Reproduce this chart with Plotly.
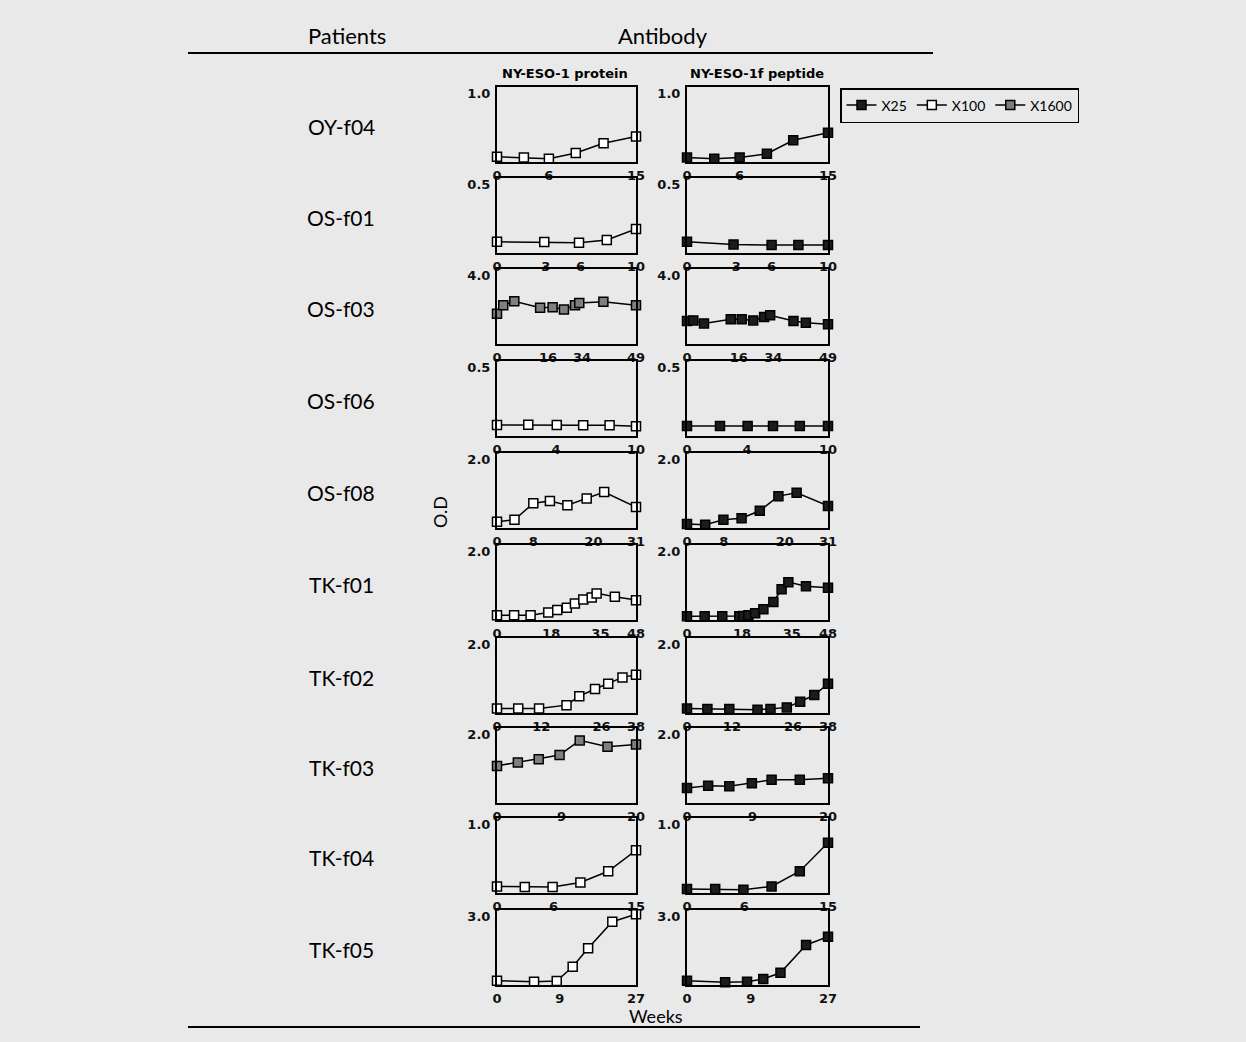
import plotly.graph_objects as go

W, H = 1246, 1042

patients = ["OY-f04", "OS-f01", "OS-f03", "OS-f06", "OS-f08",
            "TK-f01", "TK-f02", "TK-f03", "TK-f04", "TK-f05"]
y_max = [1.0, 0.5, 4.0, 0.5, 2.0, 2.0, 2.0, 2.0, 1.0, 3.0]
x_max = [15, 10, 49, 10, 31, 48, 38, 20, 15, 27]
x_tick_labels = [["0", "6", "15"], ["0", "3", "6", "10"], ["0", "16", "34", "49"],
                 ["0", "4", "10"], ["0", "8", "20", "31"], ["0", "18", "35", "48"],
                 ["0", "12", "26", "38"], ["0", "9", "20"], ["0", "6", "15"], ["0", "9", "27"]]
x_tick_pos = [[0, 5.6, 15], [0, 3.5, 6, 10], [0, 18, 30, 49], [0, 4.25, 10],
              [0, 8.1, 21.5, 31], [0, 18.7, 35.7, 48], [0, 12.1, 28.6, 38],
              [0, 9.3, 20], [0, 6.1, 15], [0, 12.2, 27]]

protein_dilution = ["X100", "X100", "X1600", "X100", "X100",
                    "X100", "X100", "X1600", "X100", "X100"]
peptide_dilution = ["X25"] * 10

protein_x = [
    [0, 2.9, 5.6, 8.5, 11.5, 15],
    [0, 3.4, 5.9, 7.9, 10],
    [0, 2.2, 6.1, 15.2, 19.6, 23.6, 27.5, 29, 37.5, 49],
    [0, 2.25, 4.3, 6.2, 8.1, 10],
    [0, 3.9, 8.1, 11.8, 15.7, 20, 23.9, 31],
    [0, 5.9, 11.6, 17.7, 20.8, 24.1, 26.9, 29.8, 32.7, 34.4, 40.7, 48],
    [0, 5.8, 11.5, 19, 22.5, 26.8, 30.4, 34.3, 38],
    [0, 3, 6, 9, 11.9, 15.9, 20],
    [0, 3, 6, 9, 12, 15],
    [0, 7.2, 11.6, 14.7, 17.7, 22.4, 27],
]
protein_y = [
    [0.07, 0.06, 0.045, 0.12, 0.25, 0.34],
    [0.075, 0.073, 0.068, 0.087, 0.16],
    [1.62, 2.07, 2.28, 1.93, 1.96, 1.84, 2.07, 2.19, 2.25, 2.07],
    [0.074, 0.075, 0.074, 0.072, 0.072, 0.065],
    [0.17, 0.22, 0.66, 0.72, 0.61, 0.79, 0.96, 0.56],
    [0.13, 0.13, 0.13, 0.2, 0.27, 0.33, 0.44, 0.55, 0.6, 0.71, 0.62, 0.53],
    [0.12, 0.12, 0.12, 0.21, 0.45, 0.64, 0.78, 0.95, 1.02],
    [0.99, 1.08, 1.17, 1.28, 1.67, 1.5, 1.56],
    [0.088, 0.08, 0.08, 0.14, 0.29, 0.57],
    [0.17, 0.13, 0.16, 0.73, 1.47, 2.53, 2.83],
]
peptide_x = [
    [0, 2.9, 5.6, 8.5, 11.3, 15],
    [0, 3.3, 6.0, 7.9, 10],
    [0, 2.2, 5.9, 15.2, 19, 23, 26.8, 28.9, 37, 41.3, 49],
    [0, 2.34, 4.3, 6.1, 8.0, 10],
    [0, 4, 8, 12, 16, 20.1, 24.1, 31],
    [0, 6, 12, 17.8, 19.2, 20.9, 23.2, 26, 29.4, 32.2, 34.5, 40.5, 48],
    [0, 5.5, 11.4, 19, 22.5, 26.9, 30.5, 34.3, 38],
    [0, 3, 6, 9.2, 12, 16, 20],
    [0, 3, 6, 9, 12, 15],
    [0, 7.3, 11.5, 14.6, 17.9, 22.8, 27],
]
peptide_y = [
    [0.06, 0.045, 0.06, 0.11, 0.29, 0.39],
    [0.075, 0.057, 0.053, 0.053, 0.053],
    [1.23, 1.26, 1.1, 1.32, 1.32, 1.26, 1.44, 1.53, 1.23, 1.14, 1.05],
    [0.066, 0.066, 0.066, 0.066, 0.066, 0.066],
    [0.11, 0.09, 0.22, 0.26, 0.46, 0.85, 0.94, 0.59],
    [0.1, 0.1, 0.1, 0.1, 0.11, 0.13, 0.18, 0.29, 0.48, 0.82, 1.01, 0.9, 0.86],
    [0.12, 0.11, 0.11, 0.09, 0.11, 0.15, 0.3, 0.48, 0.78],
    [0.4, 0.46, 0.45, 0.53, 0.62, 0.62, 0.66],
    [0.053, 0.053, 0.044, 0.088, 0.29, 0.67],
    [0.17, 0.11, 0.13, 0.24, 0.49, 1.6, 1.93],
]

dilution_order = ["X25", "X100", "X1600"]
dilution_fill = {"X25": "#1c1c1c", "X100": "#ffffff", "X1600": "#7f7f7f"}

# layout geometry (pixels)
col_x = [(497, 636), (687, 828)]
row_top = [87, 178, 269, 361, 453, 545, 638, 728, 818, 910]
row_h = 75
BG = "#e9e9e9"
TICK_FONT = dict(family="DejaVu Sans", size=13, color="#111")


def px(x):
    return x / W


def py(y):
    return 1 - y / H


fig = go.Figure()
layout_axes = {}

for i, pat in enumerate(patients):
    for j in range(2):
        n = i * 2 + j + 1
        xs = protein_x[i] if j == 0 else peptide_x[i]
        ys = protein_y[i] if j == 0 else peptide_y[i]
        dil = protein_dilution[i] if j == 0 else peptide_dilution[i]
        fig.add_trace(go.Scatter(
            x=xs, y=ys, mode="lines+markers",
            xaxis=f"x{n}", yaxis=f"y{n}", showlegend=False, cliponaxis=False,
            line=dict(color="black", width=1.5),
            marker=dict(symbol="square", size=9, color=dilution_fill[dil],
                        line=dict(color="black", width=1.5)),
            hoverinfo="x+y",
        ))
        x0, x1 = col_x[j]
        top = row_top[i]
        bot = top + row_h
        sfx = "" if n == 1 else str(n)
        layout_axes[f"xaxis{sfx}"] = dict(
            domain=[px(x0), px(x1)], anchor=f"y{n}", range=[0, x_max[i]],
            showline=True, mirror=True, linecolor="black", linewidth=2,
            showgrid=False, zeroline=False, ticks="", automargin=False,
            tickvals=x_tick_pos[i],
            ticktext=[f"<b>{t}</b>" for t in x_tick_labels[i]],
            tickfont=TICK_FONT, fixedrange=True,
        )
        layout_axes[f"yaxis{sfx}"] = dict(
            domain=[py(bot), py(top)], anchor=f"x{n}", range=[0, y_max[i]],
            showline=True, mirror=True, linecolor="black", linewidth=2,
            showgrid=False, zeroline=False, ticks="", automargin=False,
            tickvals=[y_max[i]], ticktext=[f"<b>{y_max[i]:.1f}</b>"],
            ticklabelshift=6, ticklabelstandoff=2,
            tickfont=TICK_FONT, fixedrange=True,
        )

# legend entries
for d in dilution_order:
    fig.add_trace(go.Scatter(
        x=[None], y=[None], mode="lines+markers", name=d,
        xaxis="x", yaxis="y", showlegend=True,
        line=dict(color="black", width=1.5),
        marker=dict(symbol="square", size=9, color=dilution_fill[d],
                    line=dict(color="black", width=1.5)),
    ))


def label(x, y, text, family="Lato", size=21, **kw):
    return dict(x=px(x), y=py(y), text=text, showarrow=False,
                xanchor="center", yanchor="middle",
                font=dict(family=family, size=size, color="black"),
                xref="paper", yref="paper", **kw)


annotations = [
    label(347, 35, "Patients", size=22),
    label(663, 35, "Antibody", size=22),
    label(565, 74, "<b>NY-ESO-1 protein</b>", family="DejaVu Sans", size=13),
    label(757, 74, "<b>NY-ESO-1f peptide</b>", family="DejaVu Sans", size=13),
]
for i, pat in enumerate(patients):
    annotations.append(label(341, row_top[i] + 39, pat, size=21))
annotations.append(label(440, 512, "O.D", size=18, textangle=-90))
annotations.append(label(656, 1016, "Weeks", size=18))

shapes = [
    dict(type="line", xref="paper", yref="paper", x0=px(188), x1=px(933),
         y0=py(53), y1=py(53), line=dict(color="black", width=2)),
    dict(type="line", xref="paper", yref="paper", x0=px(188), x1=px(920),
         y0=py(1027), y1=py(1027), line=dict(color="black", width=2)),
]

fig.update_layout(
    width=W, height=H,
    margin=dict(l=0, r=0, t=0, b=0, pad=0, autoexpand=False),
    paper_bgcolor=BG, plot_bgcolor=BG,
    showlegend=True,
    legend=dict(orientation="h", x=px(840), y=py(88), xanchor="left", yanchor="top",
                bordercolor="black", borderwidth=1.5, bgcolor=BG,
                font=dict(family="Lato", size=14, color="black"),
                itemwidth=30, tracegroupgap=0),
    annotations=annotations, shapes=shapes,
    **layout_axes,
)

post = ("document.body.style.margin='0';"
        "document.body.style.overflow='hidden';"
        "document.body.style.background='%s';" % BG)
fig.write_html("out.html", config={"displayModeBar": False}, post_script=post)
